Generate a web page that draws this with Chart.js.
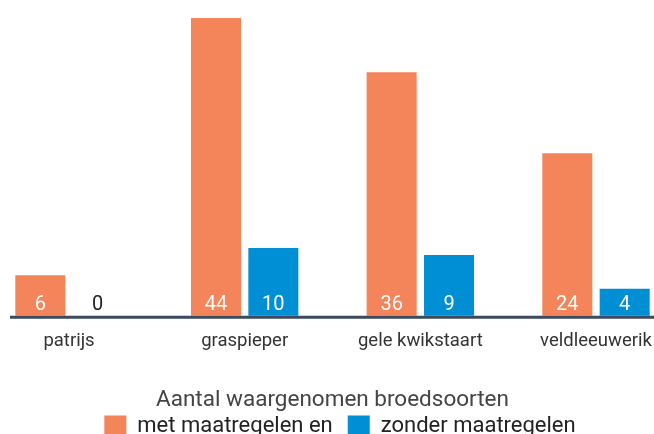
<!DOCTYPE html>
<html>
<head>
<meta charset="utf-8">
<script src="https://cdn.jsdelivr.net/npm/chart.js"></script>
<style>
  html, body { margin: 0; padding: 0; background: #fff; }
  canvas { display: block; }
</style>
</head>
<body>
<canvas id="soortenChart" width="654" height="434"></canvas>
<script>
const categories = ["patrijs", "graspieper", "gele kwikstaart", "veldleeuwerik"];
const metMaatregelen = [6, 44, 36, 24];
const zonderMaatregelen = [0, 10, 9, 4];
const seriesNames = ["met maatregelen en", "zonder maatregelen"];
const axisTitle = "Aantal waargenomen broedsoorten";

const orange = "#F4845A";
const blue = "#008FD5";
const fontFamily = "Roboto, 'Open Sans', sans-serif";

// dark baseline across the full width
const baseLine = {
	id: "baseLine",
	afterDatasetsDraw(chart) {
		const ctx = chart.ctx;
		const y = chart.scales.y.getPixelForValue(0);
		ctx.save();
		ctx.strokeStyle = "#3B4A5E";
		ctx.lineWidth = 3;
		ctx.beginPath();
		ctx.moveTo(10, y + 1.5);
		ctx.lineTo(chart.width, y + 1.5);
		ctx.stroke();
		ctx.restore();
	},
};

// numbers at the foot of each bar
const valueLabels = {
	id: "valueLabels",
	afterDatasetsDraw(chart) {
		const ctx = chart.ctx;
		ctx.save();
		ctx.font = "20px " + fontFamily;
		ctx.textAlign = "center";
		ctx.textBaseline = "middle";
		chart.data.datasets.forEach((ds, i) => {
			chart.getDatasetMeta(i).data.forEach((bar, j) => {
				const v = ds.data[j];
				ctx.fillStyle = v > 0 ? "#fff" : "#222";
				ctx.fillText(String(v), bar.x, bar.base - 11);
			});
		});
		ctx.restore();
	},
};

const ctx = document.getElementById("soortenChart").getContext("2d");
new Chart(ctx, {
	type: "bar",
	data: {
		labels: categories,
		datasets: [
			{
				label: seriesNames[0],
				data: metMaatregelen,
				backgroundColor: orange,
				barPercentage: 0.872,
				categoryPercentage: 0.653,
				clip: false,
			},
			{
				label: seriesNames[1],
				data: zonderMaatregelen,
				backgroundColor: blue,
				barPercentage: 0.872,
				categoryPercentage: 0.653,
				clip: false,
			},
		],
	},
	options: {
		responsive: false,
		animation: false,
		layout: {
			padding: { left: 69, right: 43, top: 18, bottom: -13.5 },
		},
		scales: {
			x: {
				offset: false,
				grid: { display: false, drawTicks: false },
				border: { display: false },
				ticks: {
					color: "#333",
					font: { family: fontFamily, size: 18.5 },
					padding: 14,
					maxRotation: 0,
					autoSkip: false,
				},
				title: {
					display: true,
					text: axisTitle,
					color: "#444",
					font: { family: fontFamily, size: 22.5 },
					padding: { top: 20.5, bottom: -13 },
				},
				// fixed side room for the plot, independent of the edge labels
				afterFit(scale) {
					scale.paddingLeft = 0;
					scale.paddingRight = 58;
				},
			},
			y: {
				display: false,
				min: 0,
				max: 44,
			},
		},
		plugins: {
			legend: {
				position: "bottom",
				labels: {
					boxWidth: 22,
					boxHeight: 22,
					padding: 15,
					color: "#222",
					font: { family: fontFamily, size: 22 },
				},
			},
			tooltip: { enabled: false },
		},
	},
	plugins: [baseLine, valueLabels],
});
</script>
</body>
</html>
